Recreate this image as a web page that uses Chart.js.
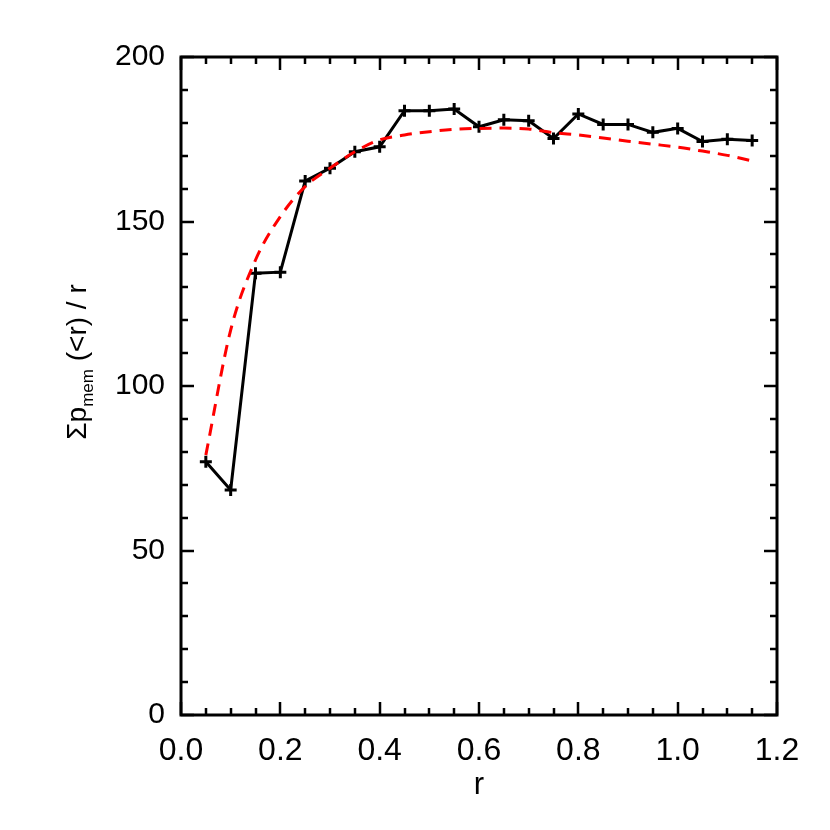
<!DOCTYPE html>
<html>
<head>
<meta charset="utf-8">
<script src="https://cdn.jsdelivr.net/npm/chart.js@4.4.0/dist/chart.umd.min.js"></script>
<style>
  body { margin: 0; background: #fff; }
  #plot { display: block; }
</style>
</head>
<body>
<canvas id="plot" width="830" height="830"></canvas>
<script>
// data
const rValues = [0.05, 0.10, 0.15, 0.20, 0.25, 0.30, 0.35, 0.40, 0.45, 0.50, 0.55, 0.60,
                 0.65, 0.70, 0.75, 0.80, 0.85, 0.90, 0.95, 1.00, 1.05, 1.10, 1.15];
const sumPmem = [77.0, 68.4, 134.3, 134.6, 162.3, 166.2, 171.2, 172.7, 183.7, 183.7, 184.2, 178.8,
                 180.9, 180.6, 175.2, 182.7, 179.5, 179.5, 177.1, 178.3, 174.3, 175.0, 174.6];
const fitValues = [79.0, 117.0, 138.3, 151.5, 160.6, 166.2, 171.2, 174.8, 176.3, 177.3, 178.0, 178.3,
                   178.4, 178.1, 177.0, 176.3, 175.4, 174.4, 173.5, 172.6, 171.4, 170.1, 168.4];
const xTicks = [0.0, 0.2, 0.4, 0.6, 0.8, 1.0, 1.2];
const yTicks = [0, 50, 100, 150, 200];

const fontFam = '"Liberation Sans", Arial, Helvetica, sans-serif';

function toPoints(xs, ys) {
    return xs.map((x, i) => ({ x: x, y: ys[i] }));
}

// box + inward ticks on all four sides, plus axis titles
const framePlugin = {
    id: 'frame',
    afterDraw(chart) {
        const c = chart.ctx;
        const a = chart.chartArea;
        const xs = chart.scales.x;
        const ys = chart.scales.y;
        c.save();
        c.strokeStyle = '#000';
        c.lineWidth = 3;
        c.strokeRect(a.left, a.top, a.right - a.left, a.bottom - a.top);

        c.lineWidth = 2.5;
        c.beginPath();
        for (let i = 0; i <= 24; i++) {
            const v = i * 0.05;
            const px = Math.round(xs.getPixelForValue(v));
            const len = (i % 4 === 0) ? 13 : 7;
            c.moveTo(px, a.bottom); c.lineTo(px, a.bottom - len);
            c.moveTo(px, a.top); c.lineTo(px, a.top + len);
        }
        for (let i = 0; i <= 20; i++) {
            const v = i * 10;
            const py = Math.round(ys.getPixelForValue(v));
            const len = (i % 5 === 0) ? 13 : 7;
            c.moveTo(a.left, py); c.lineTo(a.left + len, py);
            c.moveTo(a.right, py); c.lineTo(a.right - len, py);
        }
        c.stroke();

        // x title
        c.fillStyle = '#000';
        c.font = '31px ' + fontFam;
        c.textAlign = 'center';
        c.textBaseline = 'alphabetic';
        c.fillText('r', (a.left + a.right) / 2, 794);

        // y title with subscript
        const big = '28px ' + fontFam;
        const small = '17px ' + fontFam;
        const parts = [
            { t: '\u03A3p', f: big, dy: 0 },
            { t: 'mem', f: small, dy: 7 },
            { t: ' (<r) / r', f: big, dy: 0 }
        ];
        let total = 0;
        parts.forEach(p => { c.font = p.f; p.w = c.measureText(p.t).width; total += p.w; });
        c.translate(86, 362);
        c.rotate(-Math.PI / 2);
        c.textAlign = 'left';
        let x0 = -total / 2;
        parts.forEach(p => {
            c.font = p.f;
            c.fillText(p.t, x0, p.dy);
            x0 += p.w;
        });
        c.restore();
    }
};

new Chart(document.getElementById('plot'), {
    type: 'line',
    data: {
        datasets: [
            {
                label: 'fit',
                data: toPoints(rValues, fitValues),
                borderColor: '#ff0000',
                borderWidth: 3,
                borderDash: [12, 8],
                pointRadius: 0,
                cubicInterpolationMode: 'monotone',
                fill: false
            },
            {
                label: 'measured',
                data: toPoints(rValues, sumPmem),
                borderColor: '#000',
                borderWidth: 3,
                pointStyle: 'cross',
                pointRadius: 6,
                pointBorderWidth: 3,
                pointBorderColor: '#000',
                tension: 0,
                fill: false
            }
        ]
    },
    options: {
        responsive: false,
        animation: false,
        devicePixelRatio: 1,
        layout: { padding: { top: 57, right: 53, left: 0, bottom: 0 } },
        plugins: {
            legend: { display: false },
            tooltip: { enabled: false }
        },
        scales: {
            x: {
                type: 'linear',
                min: 0,
                max: 1.2,
                afterFit: s => { s.height = 115; },
                afterBuildTicks: s => { s.ticks = xTicks.map(v => ({ value: v })); },
                grid: { display: false },
                border: { display: false },
                ticks: {
                    padding: 9,
                    color: '#000',
                    font: { family: fontFam, size: 32 },
                    maxRotation: 0,
                    callback: v => Number(v).toFixed(1)
                }
            },
            y: {
                type: 'linear',
                min: 0,
                max: 200,
                afterFit: s => { s.width = 181; },
                afterBuildTicks: s => { s.ticks = yTicks.map(v => ({ value: v })); },
                grid: { display: false },
                border: { display: false },
                ticks: {
                    padding: 8,
                    color: '#000',
                    font: { family: fontFam, size: 30 }
                }
            }
        }
    },
    plugins: [framePlugin]
});
</script>
</body>
</html>
